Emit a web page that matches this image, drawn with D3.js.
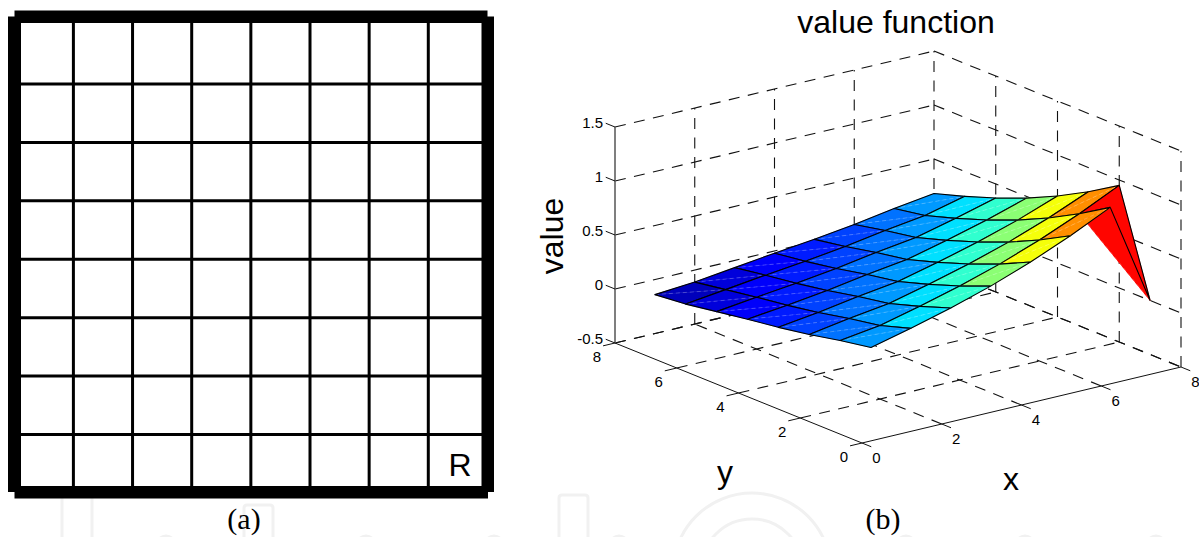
<!DOCTYPE html>
<html>
<head>
<meta charset="utf-8">
<script src="https://cdn.jsdelivr.net/npm/d3@7"></script>
<style>
html,body{margin:0;padding:0;background:#fff;}
text{font-family:"Liberation Sans",Arial,sans-serif;fill:#000;}
.cap{font-family:"Liberation Serif",serif;font-size:30px;}
.tick{font-size:15px;}
.lbl{font-size:32px;}
.grid3d{stroke:#111;stroke-width:1.1;stroke-dasharray:11,8.5;fill:none;}
.stub{stroke:#111;stroke-width:1;}
</style>
</head>
<body>
<div id="chart"></div>
<script>
// panel (a) grid world, 8 x 8 cells
var cellLines=[1,2,3,4,5,6,7];

// panel (b) value surface, rows, x = 1..8
var surfaceX=[1,2,3,4,5,6,7,8];
var surfaceY=[1,2,3,4,5,6,7,8];
var rowY1=[0.18,0.27,0.37,0.485,0.62,0.775,0.95,0];
var rowY2=[0.13,0.18,0.27,0.37,0.485,0.62,0.775,0.95];
var rowY3=[0.07,0.13,0.18,0.27,0.37,0.485,0.62,0.775];
var rowY4=[0.02,0.07,0.13,0.18,0.27,0.37,0.485,0.62];
var rowY5=[-0.02,0.02,0.07,0.13,0.18,0.27,0.37,0.485];
var rowY6=[-0.066,-0.02,0.02,0.07,0.13,0.18,0.27,0.37];
var rowY7=[-0.112,-0.066,-0.02,0.02,0.07,0.13,0.18,0.27];
var rowY8=[-0.14,-0.112,-0.066,-0.02,0.02,0.07,0.13,0.18];
var surfaceRows=[rowY1,rowY2,rowY3,rowY4,rowY5,rowY6,rowY7,rowY8];

var xTicks=[0,2,4,6,8];
var yTicks=[0,2,4,6,8];
var zTicks=[-0.5,0,0.5,1,1.5];

// faint watermark behind the captions
var wmRects=[[62,92,490],[244,273,505],[559,588,495]];
var wmRings=[[752,572,79],[752,570,51]];
var wmBumps=[166,366,494,619,906,1025,1156];

var svg=d3.select('#chart').append('svg')
	.attr('width',1199).attr('height',537)
	.style('display','block');

/***** watermark ************************/
var wm=svg.append('g').attr('fill','none').attr('stroke','#f1f1f1').attr('stroke-width',3);
wm.selectAll('.wr').data(wmRects).enter().append('path')
	.attr('d',function(d){return 'M'+d[0]+',545V'+(d[2]+3)+'Q'+d[0]+','+d[2]+' '+(d[0]+3)+','+d[2]+'H'+(d[1]-3)+'Q'+d[1]+','+d[2]+' '+d[1]+','+(d[2]+3)+'V545'});
wm.selectAll('.wc').data(wmRings).enter().append('circle')
	.attr('cx',function(d){return d[0]}).attr('cy',function(d){return d[1]}).attr('r',function(d){return d[2]});
wm.selectAll('.wb').data(wmBumps).enter().append('circle')
	.attr('cx',function(d){return d}).attr('cy',545).attr('r',9);

/***** panel (a) ************************/
var gridX=d3.scaleLinear().domain([1,7]).range([73.4,428.3]);
var gridY=d3.scaleLinear().domain([1,7]).range([84,434.5]);
var a=svg.append('g');
a.selectAll('.vl').data(cellLines).enter().append('line')
	.attr('x1',function(d){return gridX(d)}).attr('x2',function(d){return gridX(d)})
	.attr('y1',20).attr('y2',490).attr('stroke','#000').attr('stroke-width',3);
a.selectAll('.hl').data(cellLines).enter().append('line')
	.attr('y1',function(d){return gridY(d)}).attr('y2',function(d){return gridY(d)})
	.attr('x1',18).attr('x2',484).attr('stroke','#000').attr('stroke-width',3);
// frame: four overlapping bars, corners notched like the original
a.append('rect').attr('x',14.5).attr('y',10.5).attr('width',473).attr('height',12.5);
a.append('rect').attr('x',14.5).attr('y',486).attr('width',473.5).attr('height',12.5);
a.append('rect').attr('x',8).attr('y',16.5).attr('width',13).attr('height',475.5);
a.append('rect').attr('x',481.5).attr('y',16.5).attr('width',12.5).attr('height',475.5);
a.append('text').attr('x',460).attr('y',476).attr('text-anchor','middle').style('font-size','32px').text('R');
svg.append('text').attr('class','cap').attr('x',244).attr('y',529).attr('text-anchor','middle').text('(a)');

/***** panel (b), fixed orthographic view ************************/
var origin={x:862,y:443};
var xRun=d3.scaleLinear().domain([0,8]).range([0,319]);
var xRise=d3.scaleLinear().domain([0,8]).range([0,-76]);
var yRun=d3.scaleLinear().domain([0,8]).range([0,-247]);
var yRise=d3.scaleLinear().domain([0,8]).range([0,-100]);
var zRise=d3.scaleLinear().domain([-0.5,1.5]).range([0,-216]);
function proj(x,y,z){
	return [origin.x+xRun(x)+yRun(y),origin.y+xRise(x)+yRise(y)+zRise(z)];
}
function seg(g,cls,p,q){
	return g.append('line').attr('class',cls)
		.attr('x1',p[0]).attr('y1',p[1]).attr('x2',q[0]).attr('y2',q[1]);
}

var b=svg.append('g');
var zMin=-0.5,zMax=1.5;

// dashed grid on floor and the two back walls
xTicks.forEach(function(t){
	if(t>0&&t<8) seg(b,'grid3d',proj(t,0,zMin),proj(t,8,zMin));
	if(t>0) seg(b,'grid3d',proj(t,8,zMin),proj(t,8,zMax));
});
yTicks.forEach(function(t){
	if(t>0&&t<8) seg(b,'grid3d',proj(0,t,zMin),proj(8,t,zMin));
	if(t<8) seg(b,'grid3d',proj(8,t,zMin),proj(8,t,zMax));
});
zTicks.forEach(function(t){
	seg(b,'grid3d',proj(0,8,t),proj(8,8,t));
	seg(b,'grid3d',proj(8,8,t),proj(8,0,t));
});
seg(b,'grid3d',proj(0,8,zMin),proj(8,8,zMin));
seg(b,'grid3d',proj(8,8,zMin),proj(8,0,zMin));

// solid axes
seg(b,'stub',proj(0,0,zMin),proj(8,0,zMin));
seg(b,'stub',proj(0,0,zMin),proj(0,8,zMin));
seg(b,'stub',proj(0,8,zMin),proj(0,8,zMax)).style('stroke','#555').style('stroke-width',1.5);

// tick stubs
xTicks.forEach(function(t){
	seg(b,'stub',proj(t,0,zMin),proj(t,-0.3,zMin));
	b.append('text').attr('class','tick').attr('text-anchor','middle')
		.attr('x',proj(t,0,zMin)[0]+14.5).attr('y',proj(t,0,zMin)[1]+20).text(t);
});
yTicks.forEach(function(t){
	seg(b,'stub',proj(0,t,zMin),proj(-0.3,t,zMin));
	b.append('text').attr('class','tick').attr('text-anchor','middle')
		.attr('x',proj(0,t,zMin)[0]-18).attr('y',proj(0,t,zMin)[1]+18.5).text(t);
});
zTicks.forEach(function(t){
	seg(b,'stub',proj(0,8,t),proj(0,8.3,t));
	b.append('text').attr('class','tick').attr('text-anchor','end')
		.attr('x',603).attr('y',proj(0,8,t)[1]+1).text(t);
});

// jet colour map, domain
var jet=d3.scaleLinear()
	.domain([0,0.125,0.375,0.625,0.875,1])
	.range(['#00008f','#0000ff','#00ffff','#ffff00','#ff0000','#800000'])
	.clamp(true);
var colorT=d3.scaleLinear().domain([-0.176,1.118]).range([0,1]);

// cells, far corner first so nearer cells paint over
var line=d3.line();
d3.range(surfaceX.length-2,-1,-1).forEach(function(i){
	d3.range(surfaceY.length-2,-1,-1).forEach(function(j){
		var x0=surfaceX[i],x1=surfaceX[i+1],y0=surfaceY[j],y1=surfaceY[j+1];
		var p00=proj(x0,y0,surfaceRows[j][i]),
			p10=proj(x1,y0,surfaceRows[j][i+1]),
			p11=proj(x1,y1,surfaceRows[j+1][i+1]),
			p01=proj(x0,y1,surfaceRows[j+1][i]);
		var col=jet(colorT(surfaceRows[j+1][i+1]));
		// a cell is two triangles split on the p01-p10 diagonal, the fold at R shows it
		[[p01,p10,p00],[p01,p10,p11]].forEach(function(tri){
			b.append('path').attr('d',line(tri)+'Z')
				.attr('fill',col).attr('stroke',col).attr('stroke-width',0.5);
		});
		seg(b,'seam',p01,p10)
			.attr('stroke','#fff').attr('stroke-opacity',0.3).attr('stroke-width',0.8).attr('stroke-dasharray','4,3');
		b.append('path').attr('d',line([p00,p10,p11,p01])+'Z')
			.attr('fill','none')
			.attr('stroke','#000').attr('stroke-width',1.1).attr('stroke-linejoin','round');
	});
});

b.append('text').attr('class','lbl').attr('x',0).attr('y',0)
	.attr('text-anchor','middle')
	.attr('transform','translate(563,236) rotate(-90)').text('value');
b.append('text').attr('class','lbl').attr('x',725).attr('y',483).attr('text-anchor','middle').text('y');
b.append('text').attr('class','lbl').attr('x',1011).attr('y',490).attr('text-anchor','middle').text('x');
b.append('text').attr('class','lbl').attr('x',896).attr('y',33).attr('text-anchor','middle').text('value function');
svg.append('text').attr('class','cap').attr('x',883).attr('y',529).attr('text-anchor','middle').text('(b)');
</script>
</body>
</html>
